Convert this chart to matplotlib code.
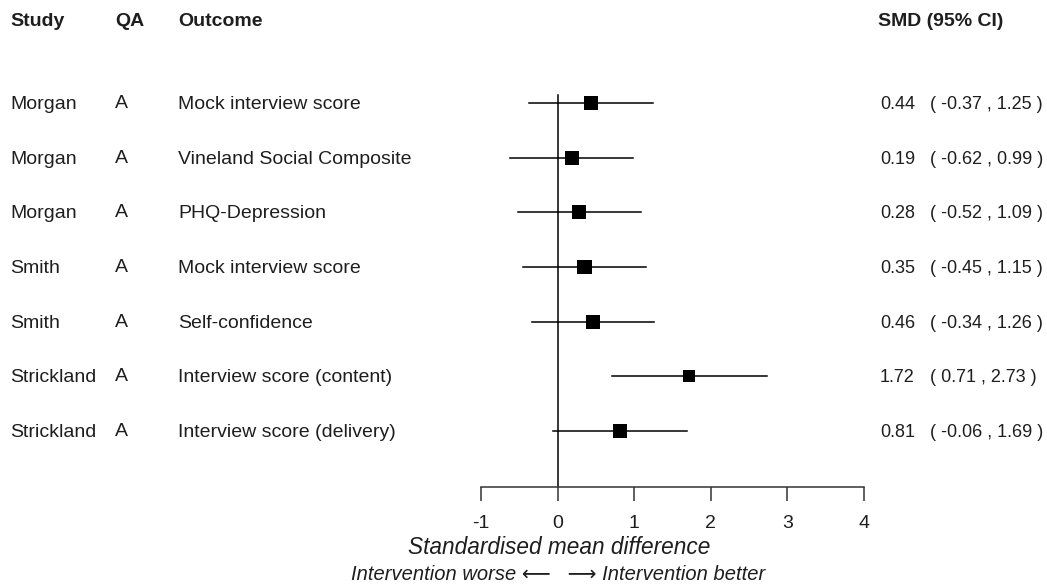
import matplotlib.pyplot as plt
from matplotlib.transforms import blended_transform_factory

plt.rcParams['font.family'] = ['Liberation Sans', 'DejaVu Sans']
plt.rcParams['text.color'] = '#1e1e1e'

studies = ["Morgan", "Morgan", "Morgan", "Smith", "Smith", "Strickland", "Strickland"]
qa = ["A", "A", "A", "A", "A", "A", "A"]
outcomes = ["Mock interview score", "Vineland Social Composite", "PHQ-Depression",
            "Mock interview score", "Self-confidence", "Interview score (content)",
            "Interview score (delivery)"]
smd = [0.44, 0.19, 0.28, 0.35, 0.46, 1.72, 0.81]
ci_low = [-0.37, -0.62, -0.52, -0.45, -0.34, 0.71, -0.06]
ci_high = [1.25, 0.99, 1.09, 1.15, 1.26, 2.73, 1.69]
xticks = [-1, 0, 1, 2, 3, 4]

W, H = 1047, 586
fig = plt.figure(figsize=(W / 100, H / 100), dpi=100)

# axes spans x from -1 (px 481) to 4 (px 864), bottom spine at px 487
row_px = 54.67
top_px, bot_px = 20, 487
ax = fig.add_axes([481 / W, (H - bot_px) / H, (864 - 481) / W, (bot_px - top_px) / H])
ax.set_xlim(-1, 4)
ax.set_ylim((bot_px - 103) / row_px, (top_px - 103) / row_px)

rows = list(range(len(smd)))
# box area per study (wider CI -> smaller box)
box = [105 if (ci_high[i] - ci_low[i]) < 1.9 else 75 for i in rows]
for i in rows:
    ax.plot([ci_low[i], ci_high[i]], [i, i], color='black', lw=1.1, zorder=2)
ax.scatter(smd, rows, marker='s', s=box, color='black', lw=0, zorder=3)
ax.plot([0, 0], [-0.15, ax.get_ylim()[0]], color='black', lw=1.1, zorder=1)

for s in ['top', 'right', 'left']:
    ax.spines[s].set_visible(False)
ax.spines['bottom'].set_color('#333333')
ax.spines['bottom'].set_linewidth(1.1)
ax.set_yticks([])
ax.set_xticks(xticks)
ax.set_xticklabels([str(t) for t in xticks])
ax.tick_params(axis='x', length=10, width=1.1, color='#333333', labelcolor='#1e1e1e',
               labelsize=14, pad=10)

trans = blended_transform_factory(fig.transFigure, ax.transData)
fs = 14
header_y = (22 - 103) / row_px
for x, txt in [(10, "Study"), (115, "QA"), (178, "Outcome"), (878, "SMD (95% CI)")]:
    ax.text(x / W, header_y, txt, transform=trans, fontsize=fs, fontweight='bold',
            ha='left', va='center', clip_on=False)

for i in rows:
    y = i + 0.03
    ax.text(10 / W, y, studies[i], transform=trans, fontsize=fs, ha='left', va='center')
    ax.text(115 / W, y - 0.02, qa[i], transform=trans, fontsize=fs, ha='left', va='center')
    ax.text(178 / W, y, outcomes[i], transform=trans, fontsize=fs, ha='left', va='center')
    ax.text(880 / W, y, f"{smd[i]:.2f}", transform=trans, fontsize=fs - 1, ha='left', va='center')
    ax.text(930 / W, y, f"( {ci_low[i]:.2f} , {ci_high[i]:.2f} )", transform=trans,
            fontsize=fs - 1, ha='left', va='center')

fig.text(559 / W, 1 - 548 / H, "Standardised mean difference", fontsize=16.3,
         style='italic', ha='center', va='center')
fig.text(558 / W, 1 - 574 / H, "Intervention worse \u27f5   \u27f6 Intervention better",
         fontsize=14.5, style='italic', ha='center', va='center')

fig.savefig("out.png", dpi=100)
